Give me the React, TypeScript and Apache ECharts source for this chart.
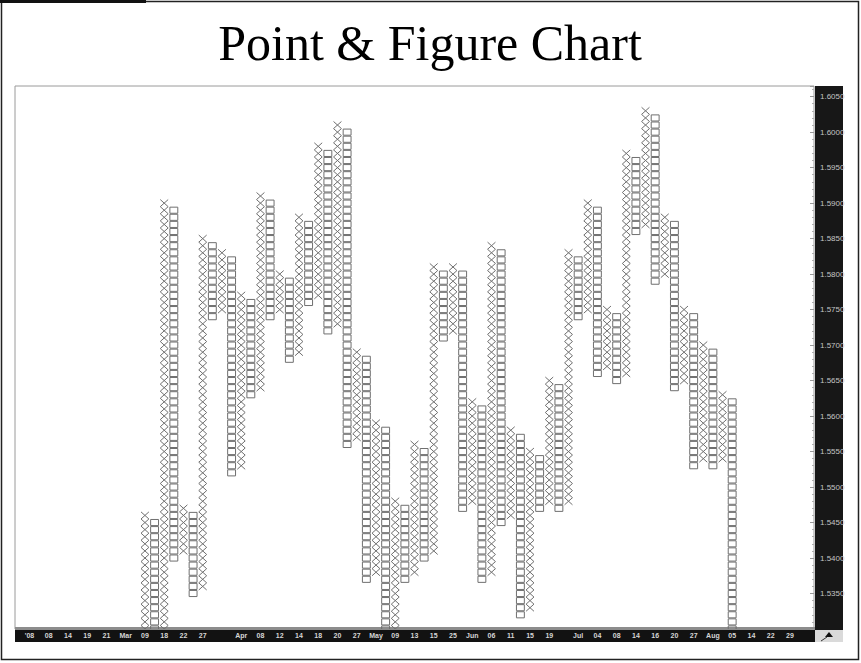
import React, { useEffect, useRef } from 'react';
import * as echarts from 'echarts';

// ---- Data ----
const BOX = 0.001;
const columnTypes = [
  'X','O','X','O','X','O','X','O','X','O',
  'X','O','X','O','X','O','X','O','X','O',
  'X','O','X','O','X','O','X','O','X','O',
  'X','O','X','O','X','O','X','O','X','O',
  'X','O','X','O','X','O','X','O','X','O',
  'X','O','X','O','X','O','X','O','X','O',
  'X','O',
];
const columnLows = [
  1.525, 1.528, 1.529, 1.540, 1.541, 1.535, 1.536, 1.574, 1.575, 1.552,
  1.553, 1.563, 1.564, 1.574, 1.575, 1.568, 1.569, 1.576, 1.577, 1.572,
  1.573, 1.556, 1.557, 1.537, 1.538, 1.528, 1.529, 1.537, 1.538, 1.540,
  1.541, 1.571, 1.572, 1.547, 1.548, 1.537, 1.538, 1.545, 1.546, 1.532,
  1.533, 1.547, 1.548, 1.547, 1.548, 1.574, 1.575, 1.566, 1.567, 1.565,
  1.566, 1.586, 1.587, 1.579, 1.580, 1.564, 1.565, 1.553, 1.554, 1.553,
  1.554, 1.528,
];
const columnHighs = [
  1.546, 1.545, 1.590, 1.589, 1.547, 1.546, 1.585, 1.584, 1.583, 1.582,
  1.577, 1.576, 1.591, 1.590, 1.580, 1.579, 1.588, 1.587, 1.598, 1.597,
  1.601, 1.600, 1.569, 1.568, 1.559, 1.558, 1.548, 1.547, 1.556, 1.555,
  1.581, 1.580, 1.581, 1.580, 1.562, 1.561, 1.584, 1.583, 1.558, 1.557,
  1.555, 1.554, 1.565, 1.564, 1.583, 1.582, 1.590, 1.589, 1.575, 1.574,
  1.597, 1.596, 1.603, 1.602, 1.588, 1.587, 1.575, 1.574, 1.570, 1.569,
  1.563, 1.562,
];
// x-axis: number of column slots, slot of the first column, date tick slots and texts
const slotCount = 83;
const firstColumnSlot = 13;
const tickSlots = [
  1, 3, 5, 7, 9, 11, 13, 15, 17, 19,
  23, 25, 27, 29, 31, 33, 35, 37, 39, 41,
  43, 45, 47, 49, 51, 53, 55, 58, 60, 62,
  64, 66, 68, 70, 72, 74, 76, 78, 80,
];
const tickTexts = [
  "'08", '08', '14', '19', '21', 'Mar', '09', '18', '22', '27',
  'Apr', '08', '12', '14', '18', '20', '27', 'May', '09', '13',
  '15', '25', 'Jun', '06', '11', '15', '19', 'Jul', '04', '08',
  '14', '16', '20', '27', 'Aug', '05', '14', '22', '29',
];
const yMin = 1.53;
const yMax = 1.6065;
const yInterval = 0.005;

const categories: string[] = Array.from({ length: slotCount }, () => '');
tickSlots.forEach((s, i) => {
  categories[s] = tickTexts[i];
});

const seriesData = columnTypes.map((t, i) => [
  firstColumnSlot + i,
  columnLows[i],
  columnHighs[i],
  t === 'X' ? 1 : 0,
]);

const MARK = '#6f6f6f';

export default function App() {
  const ref = useRef<HTMLDivElement>(null);
  useEffect(() => {
    if (!ref.current) return;
    const chart = echarts.init(ref.current, undefined, { renderer: 'svg' });
    const gridLeft = 15;
    const gridTop = 86;
    const gridRightEdge = 814;
    const gridBottomEdge = 629;
    chart.setOption({
      animation: false,
      backgroundColor: '#ffffff',
      grid: {
        left: gridLeft,
        top: gridTop,
        right: 861 - gridRightEdge,
        bottom: 663 - gridBottomEdge,
        containLabel: false,
      },
      xAxis: {
        type: 'category',
        data: categories,
        boundaryGap: true,
        axisLine: { show: false },
        axisTick: { show: false },
        splitLine: { show: false },
        axisLabel: {
          interval: 0,
          color: '#d6d6d6',
          fontSize: 7,
          fontWeight: 'bold',
          fontFamily: 'Liberation Sans',
          margin: 3,
        },
      },
      yAxis: {
        type: 'value',
        position: 'right',
        min: yMin,
        max: yMax,
        interval: yInterval,
        scale: true,
        axisLine: { show: false },
        splitLine: { show: false },
        axisTick: { show: true, inside: true, length: 4, lineStyle: { color: '#9a9a9a' } },
        minorTick: { show: true, splitNumber: 5, length: 2, lineStyle: { color: '#b0b0b0' } },
        axisLabel: {
          color: '#c4c4c4',
          fontSize: 8,
          fontFamily: 'Liberation Sans',
          margin: 6,
          showMinLabel: false,
          showMaxLabel: false,
          formatter: (v: number) => v.toFixed(4),
        },
      },
      graphic: [
        { type: 'rect', z: -5, shape: { x: 1.5, y: 1.5, width: 857, height: 658 }, style: { fill: '#ffffff', stroke: '#222', lineWidth: 1.5 } },
        { type: 'rect', z: -4, shape: { x: 0, y: 0, width: 146, height: 3 }, style: { fill: '#111' } },
        { type: 'rect', z: -4, shape: { x: gridLeft, y: gridTop, width: gridRightEdge - gridLeft, height: gridBottomEdge - gridTop }, style: { fill: '#fff', stroke: '#9a9a9a', lineWidth: 1 } },
        { type: 'rect', z: -4, shape: { x: 815, y: gridTop, width: 28, height: 544 }, style: { fill: '#171717' } },
        { type: 'rect', z: -4, shape: { x: gridLeft, y: 627, width: 800, height: 3 }, style: { fill: '#8c8c8c' } },
        { type: 'rect', z: -4, shape: { x: gridLeft, y: 630, width: 800, height: 12 }, style: { fill: '#121212' } },
        { type: 'rect', z: -4, shape: { x: 815, y: 630, width: 28, height: 12 }, style: { fill: '#dadada' } },
        { type: 'polygon', z: 5, shape: { points: [[829, 632], [833, 637], [825, 637]] }, style: { fill: '#111' } },
        { type: 'line', z: 5, shape: { x1: 821, y1: 641, x2: 827, y2: 637 }, style: { stroke: '#333', lineWidth: 1 } },
        {
          type: 'text',
          z: 5,
          x: 430,
          y: 43,
          style: {
            text: 'Point & Figure Chart',
            fontSize: 50,
            fontFamily: 'Liberation Serif',
            fill: '#000',
            align: 'center',
            verticalAlign: 'middle',
          },
        },
      ],
      series: [
        {
          type: 'custom',
          clip: true,
          encode: { x: 0, y: [1, 2] },
          data: seriesData,
          renderItem: (params: any, api: any) => {
            const cat = api.value(0);
            const low = api.value(1);
            const high = api.value(2);
            const isX = api.value(3) === 1;
            const bw = api.size([1, 0])[0];
            const w = bw * 0.82;
            const n = Math.round((high - low) / BOX) + 1;
            const cx = api.coord([cat, low])[0];
            const children: any[] = [];
            if (isX) {
              const a: number[][] = [];
              const b: number[][] = [];
              for (let k = 0; k <= n; k++) {
                const y = api.coord([cat, low - BOX / 2 + k * BOX])[1];
                const even = k % 2 === 0;
                a.push([even ? cx - w / 2 : cx + w / 2, y]);
                b.push([even ? cx + w / 2 : cx - w / 2, y]);
              }
              children.push({ type: 'polyline', shape: { points: a }, style: { stroke: MARK, fill: 'none', lineWidth: 1 } });
              children.push({ type: 'polyline', shape: { points: b }, style: { stroke: MARK, fill: 'none', lineWidth: 1 } });
            } else {
              for (let k = 0; k < n; k++) {
                const yTop = api.coord([cat, low + k * BOX + BOX / 2])[1];
                const yBot = api.coord([cat, low + k * BOX - BOX / 2])[1];
                children.push({
                  type: 'rect',
                  shape: { x: cx - w / 2, y: yTop + 0.5, width: w, height: yBot - yTop - 1 },
                  style: { stroke: MARK, fill: 'none', lineWidth: 1 },
                });
              }
            }
            return { type: 'group', children };
          },
        },
      ],
    });
    return () => chart.dispose();
  }, []);
  return (
    <div
      ref={ref}
      style={{ position: 'absolute', left: 0, top: 0, width: 861, height: 663 }}
    />
  );
}
